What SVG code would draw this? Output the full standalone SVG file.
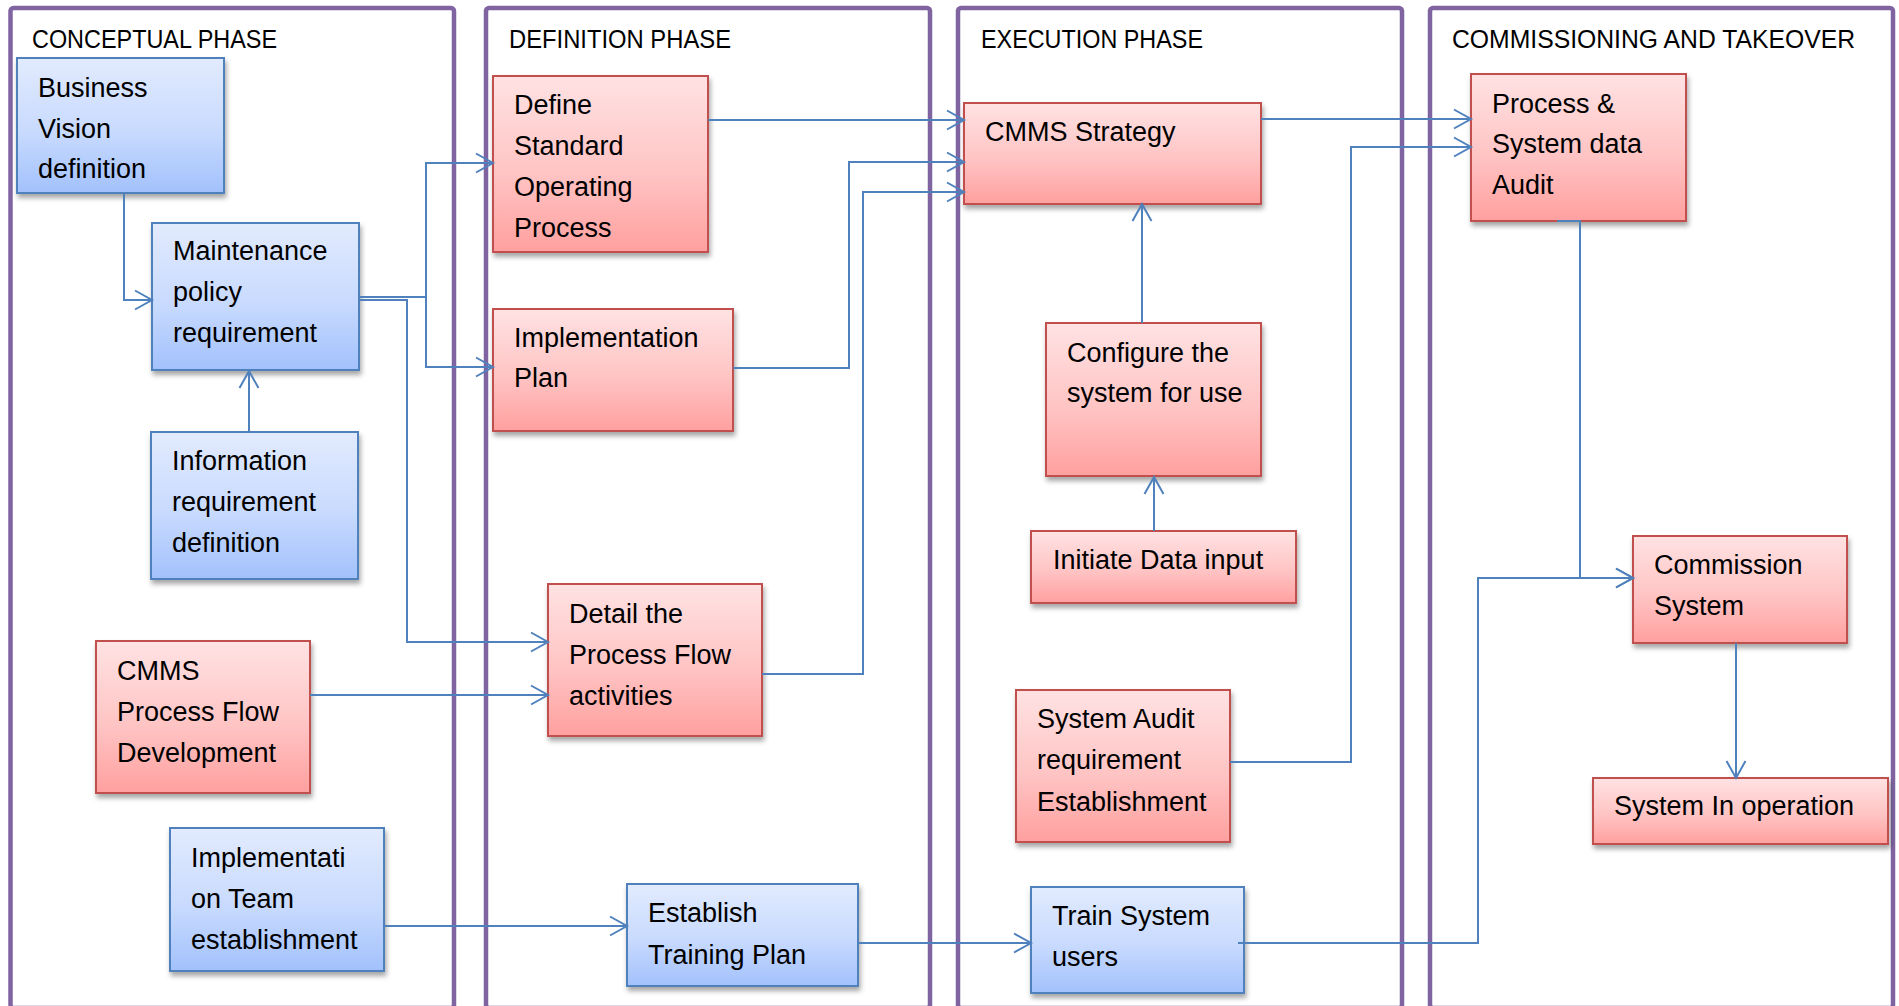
<svg xmlns="http://www.w3.org/2000/svg" width="1899" height="1006" viewBox="0 0 1899 1006">
  <style>
    .phase { fill: none; stroke: #8064A2; stroke-width: 4.5; }
    .head { font-family: "Liberation Sans", Arial, sans-serif; font-size: 25px; fill: #000; }
    .lbl { font-family: "Liberation Sans", Arial, sans-serif; font-size: 27px; fill: #000; }
    .blue { fill: url(#gBlue); stroke: #4F81BD; stroke-width: 2; filter: url(#shadow); }
    .red { fill: url(#gRed); stroke: #C0504D; stroke-width: 2; filter: url(#shadow); }
    .conn { fill: none; stroke: #4F81BD; stroke-width: 2; marker-end: url(#arrow); }
  </style>
  <defs>
    <linearGradient id="gBlue" x1="0" y1="0" x2="0" y2="1">
      <stop offset="0" stop-color="#E2EBFE"/>
      <stop offset="0.55" stop-color="#C8DAFE"/>
      <stop offset="1" stop-color="#A2C1FC"/>
    </linearGradient>
    <linearGradient id="gRed" x1="0" y1="0" x2="0" y2="1">
      <stop offset="0" stop-color="#FFE2E3"/>
      <stop offset="0.55" stop-color="#FFC4C4"/>
      <stop offset="1" stop-color="#FFA09F"/>
    </linearGradient>
    <filter id="shadow" x="-10%" y="-10%" width="125%" height="130%">
      <feDropShadow dx="1.5" dy="4" stdDeviation="2.5" flood-color="#000" flood-opacity="0.35"/>
    </filter>
    <marker id="arrow" viewBox="-22 -13 26 26" refX="0" refY="0" markerWidth="26" markerHeight="26" markerUnits="userSpaceOnUse" orient="auto">
      <path d="M-17,-9.5 L0,0 L-17,9.5" fill="none" stroke="#4F81BD" stroke-width="2"/>
    </marker>
  </defs>

  <rect width="1899" height="1006" fill="#FFFFFF"/>

  <!-- phase swimlanes -->
  <g id="phases">
    <g id="phase-conceptual">
      <rect class="phase" x="10.5" y="8" width="443.5" height="1000" rx="3"/>
      <text class="head" x="32" y="48" textLength="245" lengthAdjust="spacingAndGlyphs">CONCEPTUAL PHASE</text>
    </g>
    <g id="phase-definition">
      <rect class="phase" x="486" y="8" width="444" height="1000" rx="3"/>
      <text class="head" x="509" y="48" textLength="222" lengthAdjust="spacingAndGlyphs">DEFINITION PHASE</text>
    </g>
    <g id="phase-execution">
      <rect class="phase" x="958" y="8" width="444" height="1000" rx="3"/>
      <text class="head" x="981" y="48" textLength="222" lengthAdjust="spacingAndGlyphs">EXECUTION PHASE</text>
    </g>
    <g id="phase-commissioning">
      <rect class="phase" x="1430" y="8" width="463" height="1000" rx="3"/>
      <text class="head" x="1452" y="48" textLength="403" lengthAdjust="spacingAndGlyphs">COMMISSIONING AND TAKEOVER</text>
    </g>
  </g>

  <!-- process steps -->
  <g id="n-business-vision">
    <rect class="blue" x="17" y="58" width="207" height="135"/>
    <text class="lbl"><tspan x="38" y="97">Business</tspan><tspan x="38" y="138">Vision</tspan><tspan x="38" y="178">definition</tspan></text>
  </g>
  <g id="n-maintenance-policy">
    <rect class="blue" x="152" y="223" width="207" height="147"/>
    <text class="lbl"><tspan x="173" y="260">Maintenance</tspan><tspan x="173" y="301">policy</tspan><tspan x="173" y="342">requirement</tspan></text>
  </g>
  <g id="n-information-requirement">
    <rect class="blue" x="151" y="432" width="207" height="147"/>
    <text class="lbl"><tspan x="172" y="470">Information</tspan><tspan x="172" y="511">requirement</tspan><tspan x="172" y="552">definition</tspan></text>
  </g>
  <g id="n-cmms-process-flow">
    <rect class="red" x="96" y="641" width="214" height="152"/>
    <text class="lbl"><tspan x="117" y="680">CMMS</tspan><tspan x="117" y="721">Process Flow</tspan><tspan x="117" y="762">Development</tspan></text>
  </g>
  <g id="n-implementation-team">
    <rect class="blue" x="170" y="828" width="214" height="143"/>
    <text class="lbl"><tspan x="191" y="867">Implementati</tspan><tspan x="191" y="908">on Team</tspan><tspan x="191" y="949">establishment</tspan></text>
  </g>
  <g id="n-define-sop">
    <rect class="red" x="493" y="76" width="215" height="176"/>
    <text class="lbl"><tspan x="514" y="114">Define</tspan><tspan x="514" y="155">Standard</tspan><tspan x="514" y="196">Operating</tspan><tspan x="514" y="237">Process</tspan></text>
  </g>
  <g id="n-implementation-plan">
    <rect class="red" x="493" y="309" width="240" height="122"/>
    <text class="lbl"><tspan x="514" y="347">Implementation</tspan><tspan x="514" y="387">Plan</tspan></text>
  </g>
  <g id="n-detail-process-flow">
    <rect class="red" x="548" y="584" width="214" height="152"/>
    <text class="lbl"><tspan x="569" y="623">Detail the</tspan><tspan x="569" y="664">Process Flow</tspan><tspan x="569" y="705">activities</tspan></text>
  </g>
  <g id="n-training-plan">
    <rect class="blue" x="627" y="884" width="231" height="102"/>
    <text class="lbl"><tspan x="648" y="922">Establish</tspan><tspan x="648" y="964">Training Plan</tspan></text>
  </g>
  <g id="n-cmms-strategy">
    <rect class="red" x="964" y="103" width="297" height="101"/>
    <text class="lbl" x="985" y="141">CMMS Strategy</text>
  </g>
  <g id="n-configure-system">
    <rect class="red" x="1046" y="323" width="215" height="153"/>
    <text class="lbl"><tspan x="1067" y="362">Configure the</tspan><tspan x="1067" y="402">system for use</tspan></text>
  </g>
  <g id="n-data-input">
    <rect class="red" x="1031" y="531" width="265" height="72"/>
    <text class="lbl" x="1053" y="569">Initiate Data input</text>
  </g>
  <g id="n-audit-requirement">
    <rect class="red" x="1016" y="690" width="214" height="152"/>
    <text class="lbl"><tspan x="1037" y="728">System Audit</tspan><tspan x="1037" y="769">requirement</tspan><tspan x="1037" y="811">Establishment</tspan></text>
  </g>
  <g id="n-train-users">
    <rect class="blue" x="1031" y="887" width="213" height="106"/>
    <text class="lbl"><tspan x="1052" y="925">Train System</tspan><tspan x="1052" y="966">users</tspan></text>
  </g>
  <g id="n-data-audit">
    <rect class="red" x="1471" y="74" width="215" height="147"/>
    <text class="lbl"><tspan x="1492" y="113">Process &amp;</tspan><tspan x="1492" y="153">System data</tspan><tspan x="1492" y="194">Audit</tspan></text>
  </g>
  <g id="n-commission">
    <rect class="red" x="1633" y="536" width="214" height="107"/>
    <text class="lbl"><tspan x="1654" y="574">Commission</tspan><tspan x="1654" y="615">System</tspan></text>
  </g>
  <g id="n-in-operation">
    <rect class="red" x="1593" y="778" width="295" height="66"/>
    <text class="lbl" x="1614" y="815">System In operation</text>
  </g>

  <!-- flow connectors -->
  <g id="connectors">
    <path class="conn" d="M124,193 V300 H152"/>
    <path class="conn" d="M249,432 V371"/>
    <path class="conn" d="M359,297 H426 V163 H493"/>
    <path class="conn" d="M426,297 V367 H493"/>
    <path class="conn" d="M359,300 H407 V642 H548"/>
    <path class="conn" d="M310,695 H548"/>
    <path class="conn" d="M384,926 H627"/>
    <path class="conn" d="M708,120 H964"/>
    <path class="conn" d="M733,368 H849 V162 H964"/>
    <path class="conn" d="M762,674 H863 V192 H964"/>
    <path class="conn" d="M858,943 H1031"/>
    <path class="conn" d="M1142,323 V204"/>
    <path class="conn" d="M1154,531 V477"/>
    <path class="conn" d="M1230,762 H1351 V147 H1471"/>
    <path class="conn" d="M1261,119 H1471"/>
    <path class="conn" d="M1557,221 H1580 V578 H1633"/>
    <path class="conn" d="M1238,943 H1478 V578 H1633"/>
    <path class="conn" d="M1736,643 V778"/>
  </g>
</svg>
